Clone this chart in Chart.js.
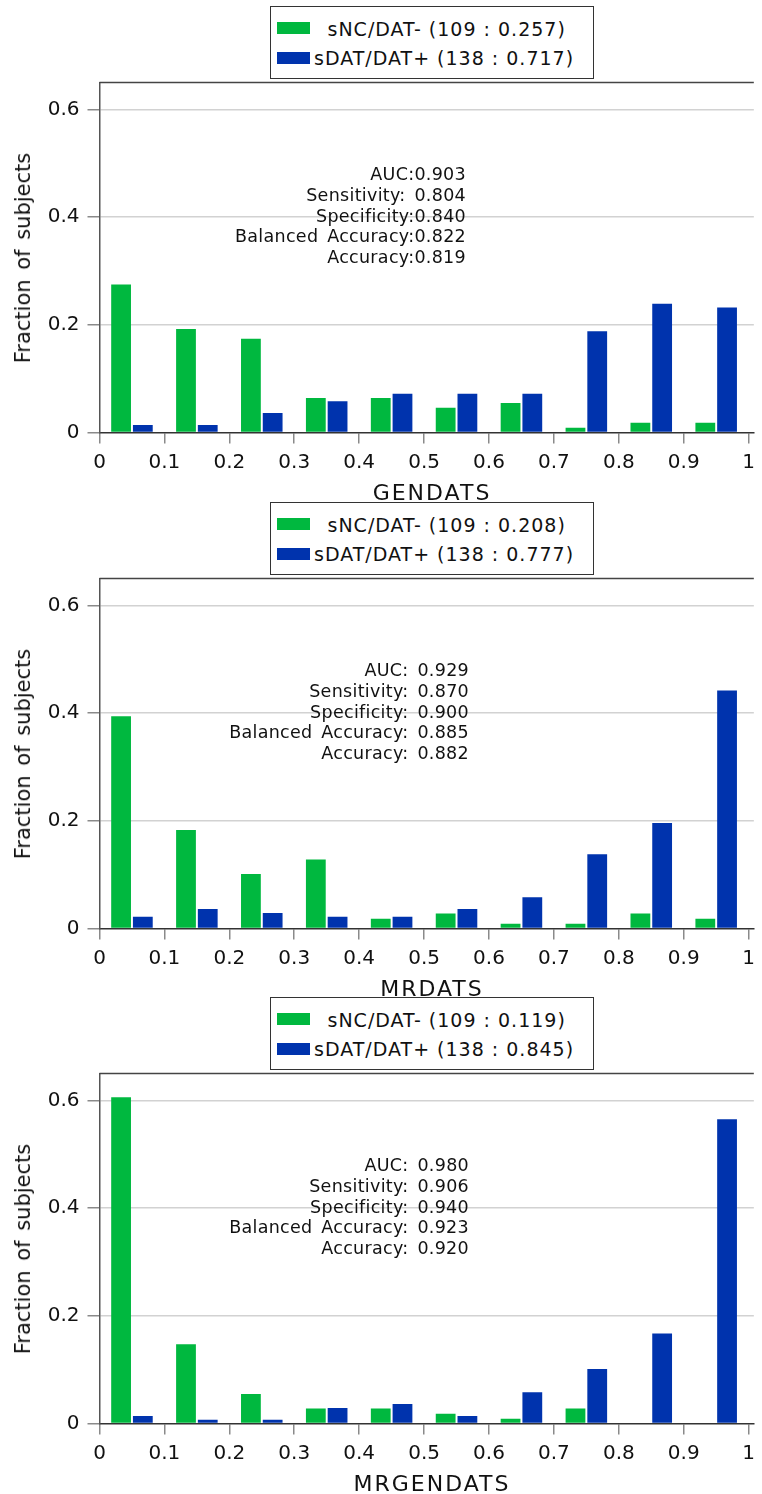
<!DOCTYPE html>
<html>
<head>
<meta charset="utf-8">
<script src="https://cdn.jsdelivr.net/npm/chart.js@4.4.1/dist/chart.umd.min.js"></script>
<style>
    body { margin: 0; background: #fff; font-family: "DejaVu Sans", sans-serif; color: #111; }
    #wrap { position: relative; width: 762px; height: 1494px; overflow: hidden; }
    .panel { position: absolute; left: 0; width: 762px; }
    .panel canvas { position: absolute; left: 0; top: 0; }
    .legend { position: absolute; left: 269.5px; top: 6px; width: 324px; height: 73px; box-sizing: border-box; border: 1.5px solid #333; background: #fff; }
    .sw { position: absolute; left: 6.5px; width: 33px; height: 12px; }
    .lt { position: absolute; font-size: 19px; line-height: 22px; letter-spacing: 1px; white-space: nowrap; }
    .stats { position: absolute; text-align: right; font-size: 17.5px; line-height: 20.8px; letter-spacing: 0.3px; word-spacing: 3px; white-space: nowrap; }
    .ytitle { position: absolute; left: 23px; top: 257.5px; font-size: 21px; white-space: nowrap; transform: translate(-50%, -50%) rotate(-90deg); word-spacing: 3px; }
    .xtitle { position: absolute; left: 432px; top: 492px; font-size: 22px; letter-spacing: 2px; white-space: nowrap; transform: translate(-50%, -50%); }
</style>
</head>
<body>
<div id="wrap"></div>
<script>
// bins of the score histogram (0..1 in steps of 0.1)
const binCenters = [0.05, 0.15, 0.25, 0.35, 0.45, 0.55, 0.65, 0.75, 0.85, 0.95];
const xTicks = [0, 0.1, 0.2, 0.3, 0.4, 0.5, 0.6, 0.7, 0.8, 0.9, 1];
const yTicks = [0, 0.2, 0.4, 0.6];

const panelNames = ['GENDATS', 'MRDATS', 'MRGENDATS'];
const ncLabels = ['sNC/DAT- (109 : 0.257)', 'sNC/DAT- (109 : 0.208)', 'sNC/DAT- (109 : 0.119)'];
const datLabels = ['sDAT/DAT+ (138 : 0.717)', 'sDAT/DAT+ (138 : 0.777)', 'sDAT/DAT+ (138 : 0.845)'];

const gendatsNC = [0.275, 0.192, 0.174, 0.064, 0.064, 0.046, 0.055, 0.009, 0.018, 0.018];
const gendatsDAT = [0.014, 0.014, 0.036, 0.058, 0.072, 0.072, 0.072, 0.188, 0.239, 0.232];
const mrdatsNC = [0.394, 0.183, 0.101, 0.128, 0.018, 0.028, 0.009, 0.009, 0.028, 0.018];
const mrdatsDAT = [0.022, 0.036, 0.029, 0.022, 0.022, 0.036, 0.058, 0.138, 0.196, 0.442];
const mrgendatsNC = [0.606, 0.147, 0.055, 0.028, 0.028, 0.018, 0.009, 0.028, 0, 0];
const mrgendatsDAT = [0.014, 0.007, 0.007, 0.029, 0.036, 0.014, 0.058, 0.101, 0.167, 0.565];

const gendatsStats = ['AUC:0.903', 'Sensitivity: 0.804', 'Specificity:0.840', 'Balanced Accuracy:0.822', 'Accuracy:0.819'];
const mrdatsStats = ['AUC: 0.929', 'Sensitivity: 0.870', 'Specificity: 0.900', 'Balanced Accuracy: 0.885', 'Accuracy: 0.882'];
const mrgendatsStats = ['AUC: 0.980', 'Sensitivity: 0.906', 'Specificity: 0.940', 'Balanced Accuracy: 0.923', 'Accuracy: 0.920'];

const GREEN = '#00b83f';
const BLUE = '#0033ad';
const FONT = 'DejaVu Sans';

const panels = [
    { top: 0, h: 495, nc: gendatsNC, dat: gendatsDAT, stats: gendatsStats, statsRight: 296 },
    { top: 496, h: 495, nc: mrdatsNC, dat: mrdatsDAT, stats: mrdatsStats, statsRight: 293 },
    { top: 991, h: 503, nc: mrgendatsNC, dat: mrgendatsDAT, stats: mrgendatsStats, statsRight: 293 }
];

// dark top edge of the plot frame
const frameTop = {
    id: 'frameTop',
    afterDraw: (chart) => {
        const { ctx, chartArea } = chart;
        ctx.save();
        ctx.strokeStyle = '#444';
        ctx.lineWidth = 1.5;
        ctx.beginPath();
        ctx.moveTo(chartArea.left, chartArea.top);
        ctx.lineTo(chartArea.right, chartArea.top);
        ctx.stroke();
        ctx.restore();
    }
};

const wrap = document.getElementById('wrap');

panels.forEach((p, i) => {
    const el = document.createElement('div');
    el.className = 'panel';
    el.style.top = p.top + 'px';
    el.style.height = p.h + 'px';
    el.innerHTML = `
        <canvas width="762" height="${p.h}"></canvas>
        <div class="legend">
            <div class="sw" style="top:15px; background:${GREEN};"></div>
            <div class="lt" style="left:57px; top:11px;">${ncLabels[i]}</div>
            <div class="sw" style="top:44.5px; background:${BLUE};"></div>
            <div class="lt" style="left:43.5px; top:40px;">${datLabels[i]}</div>
        </div>
        <div class="stats" style="right:${p.statsRight}px; top:164px;">${p.stats.join('<br>')}</div>
        <div class="ytitle">Fraction of subjects</div>
        <div class="xtitle">${panelNames[i]}</div>
    `;
    wrap.appendChild(el);

    const tickFont = { family: FONT, size: 20 };
    new Chart(el.querySelector('canvas'), {
        type: 'bar',
        data: {
            datasets: [
                { label: ncLabels[i], data: binCenters.map((x, k) => ({ x, y: p.nc[k] })), backgroundColor: GREEN, categoryPercentage: 0.67, barPercentage: 0.91 },
                { label: datLabels[i], data: binCenters.map((x, k) => ({ x, y: p.dat[k] })), backgroundColor: BLUE, categoryPercentage: 0.67, barPercentage: 0.91 }
            ]
        },
        options: {
            responsive: false,
            animation: false,
            layout: { padding: { top: 82.5, left: 0, right: 0, bottom: 0 }, autoPadding: false },
            plugins: { legend: { display: false }, tooltip: { enabled: false } },
            scales: {
                x: {
                    type: 'linear', min: 0, max: 1.008, offset: false,
                    afterBuildTicks: (s) => { s.ticks = xTicks.map(v => ({ value: v })); },
                    afterFit: (s) => { s.height = s.chart.height - 432.5; },
                    grid: { drawOnChartArea: false, offset: false, tickLength: 11, tickColor: '#8a8a8a', lineWidth: 1.5 },
                    border: { color: '#333', width: 1.5 },
                    ticks: { font: tickFont, color: '#111', padding: 7, maxRotation: 0, autoSkip: false, callback: v => String(v) }
                },
                y: {
                    min: 0, max: 0.65,
                    afterBuildTicks: (s) => { s.ticks = yTicks.map(v => ({ value: v })); },
                    afterFit: (s) => { s.width = 99.5; },
                    grid: { color: c => c.tick && c.tick.value === 0 ? 'rgba(0,0,0,0)' : '#d2d2d2', lineWidth: 1.5, tickLength: 12, tickColor: '#8a8a8a' },
                    border: { color: '#555', width: 1.5 },
                    ticks: { font: tickFont, color: '#111', padding: 8, callback: v => String(v) }
                }
            }
        },
        plugins: [frameTop]
    });
});
</script>
</body>
</html>
